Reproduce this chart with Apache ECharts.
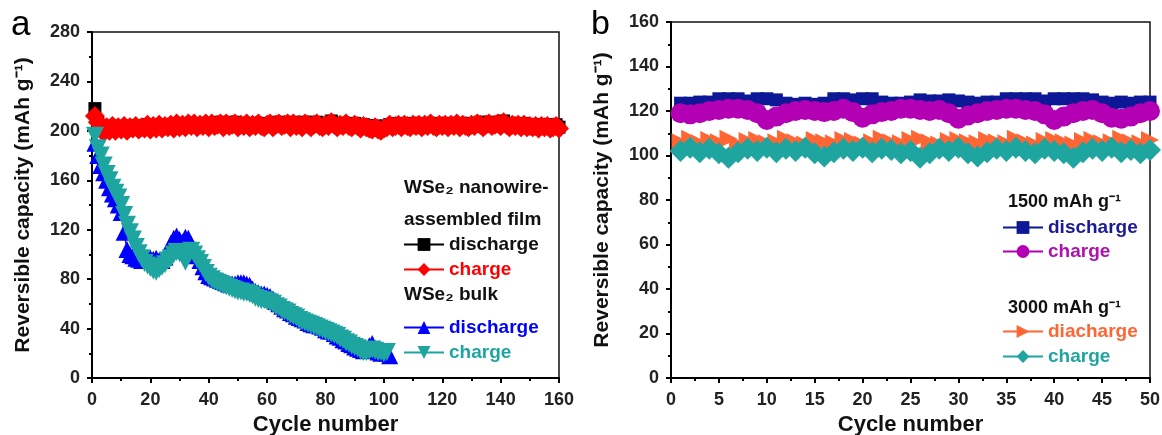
<!DOCTYPE html>
<html>
<head>
<meta charset="utf-8">
<script src="https://cdn.jsdelivr.net/npm/echarts@6/dist/echarts.min.js"></script>
<style>
  html, body { margin: 0; padding: 0; background: #fff; }
  #chart { width: 1162px; height: 435px; }
</style>
</head>
<body>
<div id="chart"></div>
<script>
// panel a: WSe2 nanowire-assembled film (cycles 1-160)
const filmDischarge = [
  218, 206, 202, 201, 203, 202, 204, 201, 203, 202,
  203, 204, 202, 203, 204, 202, 204, 203, 205, 203,
  204, 205, 203, 204, 205, 203, 205, 204, 206, 204,
  205, 206, 204, 205, 206, 205, 206, 205, 206, 205,
  206, 205, 206, 207, 205, 206, 205, 206, 207, 205,
  206, 205, 206, 205, 206, 205, 206, 206, 205, 206,
  206, 205, 206, 207, 205, 206, 206, 205, 207, 206,
  206, 205, 207, 206, 205, 206, 207, 206, 205, 206,
  206, 208, 206, 205, 206, 205, 206, 206, 205, 206,
  205, 204, 205, 204, 204, 203, 204, 203, 202, 203,
  204, 205, 204, 205, 206, 204, 205, 206, 205, 206,
  205, 206, 205, 206, 205, 206, 206, 205, 206, 205,
  206, 205, 206, 205, 206, 205, 206, 206, 205, 206,
  205, 206, 207, 205, 206, 207, 205, 206, 206, 205,
  208, 206, 205, 206, 205, 206, 205, 206, 205, 204,
  205, 204, 205, 204, 205, 204, 203, 204, 205, 203
];
const filmCharge = [
  212, 207, 201, 199, 203, 200, 204, 200, 203, 201,
  204, 200, 203, 202, 204, 201, 203, 202, 205, 201,
  204, 202, 205, 202, 204, 203, 205, 202, 206, 203,
  205, 203, 206, 204, 206, 203, 205, 204, 206, 203,
  206, 204, 205, 206, 203, 206, 204, 205, 206, 203,
  205, 204, 206, 203, 205, 204, 206, 204, 203, 205,
  206, 203, 205, 206, 204, 205, 206, 203, 206, 204,
  205, 203, 206, 205, 203, 205, 206, 204, 203, 205,
  204, 207, 205, 203, 205, 204, 206, 204, 203, 205,
  204, 202, 204, 203, 202, 201, 203, 201, 200, 202,
  203, 205, 203, 204, 205, 203, 205, 204, 203, 205,
  204, 205, 203, 205, 204, 206, 204, 203, 205, 204,
  205, 203, 205, 204, 206, 203, 205, 204, 203, 205,
  204, 206, 205, 203, 205, 206, 204, 205, 206, 204,
  207, 205, 203, 205, 204, 205, 203, 205, 203, 204,
  203, 204, 202, 204, 203, 204, 202, 203, 204, 202
];
// WSe2 bulk (cycles 1-102 / 1-101)
const bulkDischarge = [
  190, 180, 172, 166, 160, 154, 149, 145, 140, 134,
  118, 104, 100, 99, 97, 96, 95, 95, 96, 97,
  96, 97, 95, 95, 98, 103, 109, 113, 115, 112,
  110, 114, 113, 108, 104, 99, 95, 90, 86, 83,
  82, 81, 80, 79, 78, 77, 76, 76, 76, 77,
  77, 77, 76, 75, 72, 70, 69, 68, 68, 67,
  66, 64, 62, 60, 58, 56, 55, 53, 52, 50,
  49, 48, 47, 45, 44, 43, 43, 42, 41, 39,
  38, 38, 36, 34, 33, 31, 30, 28, 27, 25,
  24, 23, 22, 23, 26, 28, 24, 21, 20, 22,
  20, 18
];
const bulkCharge = [
  196, 186, 180, 172, 165, 160, 154, 150, 146, 140,
  132, 124, 118, 112, 106, 101, 97, 93, 91, 89,
  87, 86, 88, 90, 92, 95, 97, 100, 102, 101,
  99, 94, 99, 103, 100, 96, 93, 89, 85, 82,
  80, 78, 77, 76, 75, 74, 73, 72, 71, 70,
  70, 69, 69, 68, 67, 65, 64, 63, 63, 62,
  61, 60, 58, 57, 55, 54, 53, 51, 50, 49,
  47, 46, 45, 44, 43, 42, 41, 40, 39, 38,
  37, 36, 35, 34, 32, 31, 29, 28, 26, 25,
  24, 22, 21, 21, 22, 23, 22, 21, 21, 20,
  21
];
// panel b: rate cycling (cycles 1-50)
const dis1500 = [
  123.5, 123.5, 124, 124, 125.5, 125.5, 125.5, 124.5, 125.5, 125.5,
  125, 123.5, 123, 123.5, 123, 123.5, 125.5, 125.5, 125, 125.5,
  125.5, 124, 123.5, 123.5, 124, 125, 124.5, 124.5, 125, 124.5,
  124, 123.5, 124, 124, 125.5, 125.5, 125.5, 125.5, 124.5, 125.5,
  125.5, 125.5, 125.5, 125, 124, 123.5, 124, 123.5, 124, 124
];
const chg1500 = [
  119, 118.5, 119, 120, 120.5, 121, 121, 120.5, 119, 116,
  117.5, 119, 120, 120.5, 120, 119.5, 120, 121, 119.5, 117,
  118.5, 119.5, 120, 121, 121, 120.5, 120, 120.5, 119, 116.5,
  118, 119, 120, 120.5, 121, 121, 120.5, 120, 118.5, 116,
  117.5, 119, 120, 120.5, 119, 117, 116.5, 117.5, 119, 120
];
const dis3000 = [
  106, 107.5, 105.5, 107, 106, 107.5, 105, 106.5, 107, 105.5,
  106, 107.5, 106, 105, 107, 106, 105.5, 107, 106.5, 105,
  106, 107.5, 106, 105.5, 107, 107.5, 106, 105, 106.5, 107,
  106, 105.5, 107, 106, 105.5, 107.5, 106, 105, 106.5, 107,
  106, 105, 106.5, 107, 105.5, 106, 107.5, 106, 105.5, 107
];
const chg3000 = [
  102, 103.5, 101.5, 103, 101, 99, 101.5, 103, 102, 103.5,
  101.5, 103, 102, 103.5, 101, 99.5, 101.5, 103, 102, 103.5,
  101.5, 103, 102.5, 101, 102, 99, 101, 103, 102, 103.5,
  101, 99.5, 101.5, 103, 102, 103.5, 102, 101, 103, 102,
  101, 99, 101.5, 103, 102, 103.5, 101.5, 102.5, 101, 102.5
];

const FONT = '"Liberation Sans", Arial, sans-serif';
const legendText = {
  'film discharge': 'discharge', 'film charge': 'charge',
  'bulk discharge': 'discharge', 'bulk charge': 'charge',
  '1500 discharge': 'discharge', '1500 charge': 'charge',
  '3000 diacharge': 'diacharge', '3000 charge': 'charge'
};

function pairs(arr) {
  return arr.map(function (v, i) { return [i + 1, v]; });
}

function lineSeries(name, data, color, symbol, size, idx, rotate) {
  return {
    name: name, type: 'line', data: pairs(data),
    xAxisIndex: idx, yAxisIndex: idx,
    symbol: symbol, symbolSize: size, symbolRotate: rotate || 0,
    showAllSymbol: true, animation: false,
    lineStyle: { color: color, width: 1.5 },
    itemStyle: { color: color, borderWidth: 0 }
  };
}

function legendItem(name, color, left, top) {
  return {
    data: [{ name: name, textStyle: { color: color } }],
    left: left, top: top, padding: 0, itemGap: 0,
    itemWidth: 40, itemHeight: 16, selectedMode: false,
    textStyle: { fontSize: 19, fontWeight: 'bold', fontFamily: FONT },
    formatter: function (n) { return legendText[n]; }
  };
}

function xAxis(idx, max, interval) {
  return {
    type: 'value', gridIndex: idx, min: 0, max: max, interval: interval,
    name: 'Cycle number', nameLocation: 'middle', nameGap: 27,
    nameTextStyle: { fontSize: 22, fontWeight: 'bold', color: '#111', fontFamily: FONT },
    axisLine: { onZero: false, lineStyle: { color: '#000', width: 2 } },
    axisTick: { length: 5, lineStyle: { color: '#000', width: 2 } },
    minorTick: { show: true, splitNumber: 2, length: 3, lineStyle: { color: '#000', width: 2 } },
    axisLabel: { margin: 13, fontSize: 18, fontWeight: 'bold', color: '#222', fontFamily: FONT },
    splitLine: { show: false }
  };
}

function yAxis(idx, max, interval) {
  return {
    type: 'value', gridIndex: idx, min: 0, max: max, interval: interval,
    name: 'Reversible capacity (mAh g\u207B\u00B9)', nameLocation: 'middle', nameGap: 58,
    nameTextStyle: { fontSize: 21, fontWeight: 'bold', color: '#111', fontFamily: FONT },
    axisLine: { onZero: false, lineStyle: { color: '#000', width: 2 } },
    axisTick: { length: 5, lineStyle: { color: '#000', width: 2 } },
    minorTick: { show: true, splitNumber: 2, length: 3, lineStyle: { color: '#000', width: 2 } },
    axisLabel: { margin: 12, fontSize: 18, fontWeight: 'bold', color: '#222', fontFamily: FONT },
    splitLine: { show: false }
  };
}

function label(text, x, y, size, color, weight) {
  return {
    type: 'text', x: x, y: y, z: 100,
    style: {
      text: text, fill: color || '#111', textVerticalAlign: 'middle', verticalAlign: 'middle',
      font: (weight || 'bold') + ' ' + size + 'px "Liberation Sans", Arial, sans-serif'
    }
  };
}

const chart = echarts.init(document.getElementById('chart'));
chart.setOption({
  backgroundColor: '#fff',
  animation: false,
  grid: [
    { left: 92, top: 32, width: 467, height: 346, show: true, borderColor: '#111', borderWidth: 1.5, outerBoundsMode: 'none' },
    { left: 671, top: 22, width: 479, height: 356, show: true, borderColor: '#111', borderWidth: 1.5, outerBoundsMode: 'none' }
  ],
  xAxis: [xAxis(0, 160, 20), xAxis(1, 50, 5)],
  yAxis: [yAxis(0, 280, 40), yAxis(1, 160, 20)],
  legend: [
    legendItem('film discharge', '#111', 403, 235),
    legendItem('film charge', '#ff0000', 403, 260),
    legendItem('bulk discharge', '#0000ff', 403, 318),
    legendItem('bulk charge', '#1fa5a0', 403, 343),
    legendItem('1500 discharge', '#1a1a99', 1002, 218),
    legendItem('1500 charge', '#b010b0', 1002, 242),
    legendItem('3000 diacharge', '#ff6633', 1002, 322),
    legendItem('3000 charge', '#1fa5a0', 1002, 347)
  ],
  graphic: [
    label('a', 11, 25, 35, '#000', 'normal'),
    label('b', 591, 25, 34, '#000', 'normal'),
    label('WSe\u2082 nanowire-', 404, 188, 19),
    label('assembled film', 404, 220, 19),
    label('WSe\u2082 bulk', 404, 295, 19),
    label('1500 mAh g\u207B\u00B9', 1008, 202, 18),
    label('3000 mAh g\u207B\u00B9', 1008, 308, 18)
  ],
  series: [
    lineSeries('film discharge', filmDischarge, '#000000', 'rect', 13, 0),
    lineSeries('film charge', filmCharge, '#ff0000', 'diamond', 20, 0),
    lineSeries('bulk discharge', bulkDischarge, '#0000ff', 'triangle', 17, 0),
    lineSeries('bulk charge', bulkCharge, '#1fa5a0', 'triangle', 18, 0, 180),
    lineSeries('1500 discharge', dis1500, '#0d1896', 'rect', 13, 1),
    lineSeries('1500 charge', chg1500, '#b400b4', 'circle', 20, 1),
    lineSeries('3000 diacharge', dis3000, '#ff6633', 'triangle', 18, 1, -90),
    lineSeries('3000 charge', chg3000, '#1fa5a0', 'diamond', 22, 1)
  ]
});
</script>
</body>
</html>
